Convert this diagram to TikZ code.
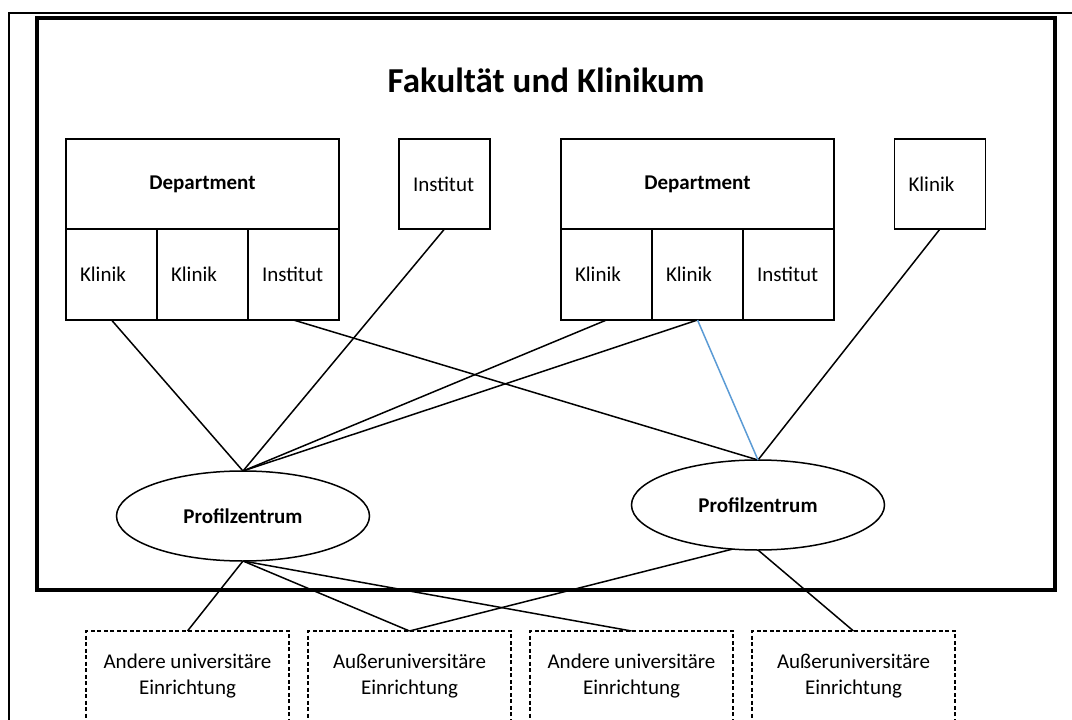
\documentclass[tikz,border=0pt]{standalone}
\usepackage{fontspec}
\setmainfont{Carlito}
\usetikzlibrary{shapes.geometric}

\definecolor{linkblue}{RGB}{91,155,213}

\tikzset{
  box/.style={draw, line width=1.5pt, inner sep=0pt, outer sep=0pt},
  dept/.style={box, minimum width=273pt, minimum height=90pt,
    font=\fontsize{21pt}{25.5pt}\selectfont\bfseries},
  cell/.style={box, minimum height=91pt, text width=63pt, inner xsep=14pt, align=left},
  zentrum/.style={box, ellipse, minimum width=253pt, minimum height=90pt,
    font=\fontsize{21pt}{25.5pt}\selectfont\bfseries},
  extern/.style={box, line width=1.2pt, dash pattern=on 4pt off 2.5pt,
    minimum width=203pt, minimum height=90pt, align=center},
  link/.style={line width=1.5pt}
}

\begin{document}
\begin{tikzpicture}[x=1pt, y=-1pt, font=\fontsize{21pt}{25.5pt}\selectfont]
  \useasboundingbox (0,0) rectangle (1072,720);

  % Outer frame, cut off at the right and bottom
  \draw[line width=2.5pt] (9,725) -- (9,13) -- (1075,13);

  % Faculty frame
  \draw[line width=3.5pt] (37,18) rectangle (1055,590);
  \node[font=\fontsize{35pt}{42pt}\selectfont\bfseries] (fak) at (546,80) {Fakultät und Klinikum};

  % Departments with their units
  \node[dept] (dep1) at (202.5,184) {Department};
  \node[cell, anchor=north west] (d1k1) at (dep1.south west) {Klinik};
  \node[cell, anchor=west] (d1k2) at (d1k1.east) {Klinik};
  \node[cell, anchor=west] (d1in) at (d1k2.east) {Institut};

  \node[dept] (dep2) at (697.5,184) {Department};
  \node[cell, anchor=north west] (d2k1) at (dep2.south west) {Klinik};
  \node[cell, anchor=west] (d2k2) at (d2k1.east) {Klinik};
  \node[cell, anchor=west] (d2in) at (d2k2.east) {Institut};

  % Single units
  \node[cell, minimum height=90pt] (inst) at (444.5,184) {Institut};
  \node[cell, minimum height=90pt] (klin) at (940,184) {Klinik};

  % Profile centres
  \node[zentrum] (pz1) at (243,516) {Profilzentrum};
  \node[zentrum] (pz2) at (758,505) {Profilzentrum};

  % Partner institutions
  \foreach \i/\x/\name in {1/187.5/Andere universitäre, 2/409.5/Außeruniversitäre,
                           3/631.5/Andere universitäre, 4/853.5/Außeruniversitäre}
    \node[extern] (ext\i) at (\x,676) {\name\\Einrichtung};

  % Links into the centres
  \draw[link] (d1k1.south) -- (pz1.north);
  \draw[link] (inst.south) -- (pz1.north);
  \draw[link] (d2k1.south) -- (pz1.north);
  \draw[link] (d2k2.south) -- (pz1.north);
  \draw[link] (d1in.south) -- (pz2.north);
  \draw[link] (klin.south) -- (pz2.north);
  \draw[link, linkblue] (d2k2.south) -- (pz2.north);

  % Links to the partners
  \foreach \j in {1,2,3}
    \draw[link] (pz1.south) -- (ext\j.north);
  \draw[link] (pz2.-120) -- (ext2.north);
  \draw[link] (pz2.south) -- (ext4.north);
\end{tikzpicture}
\end{document}
